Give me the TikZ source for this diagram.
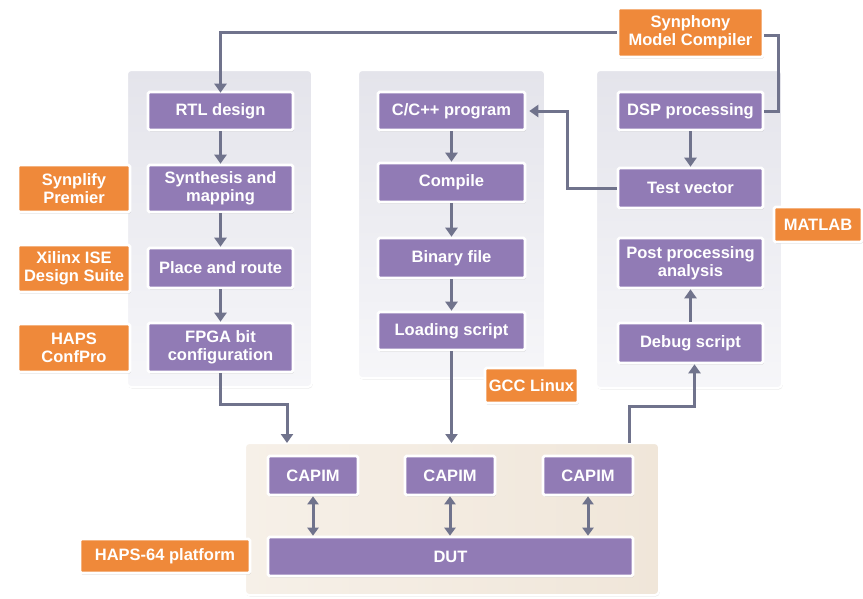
\documentclass[tikz,border=0pt]{standalone}
\usepackage{fontspec}
\setmainfont{Liberation Sans}
\usetikzlibrary{arrows.meta,shadows,calc}
\definecolor{purp}{RGB}{145,123,181}
\definecolor{orng}{RGB}{239,137,58}
\definecolor{conn}{RGB}{112,115,140}
\definecolor{pantop}{RGB}{228,228,235}
\definecolor{panbot}{RGB}{246,246,249}
\definecolor{beigeL}{RGB}{246,240,232}
\definecolor{beigeR}{RGB}{240,230,217}
\tikzset{
  box/.style={draw=white, line width=2.6pt, text=white, font=\bfseries\fontsize{16.5}{18}\selectfont,
    align=center, inner sep=0pt, rounded corners=1.5pt,
    drop shadow={opacity=0.3, shadow xshift=0.8pt, shadow yshift=-1.6pt}},
  pbox/.style={box, fill=purp},
  obox/.style={box, fill=orng},
  panel/.style={draw=white, line width=2pt, rounded corners=4pt, top color=pantop, bottom color=panbot,
    drop shadow={opacity=0.15, shadow xshift=0.8pt, shadow yshift=-1.5pt}},
  wire/.style={draw=conn, line width=3pt},
  arr/.style={wire, -{Triangle[width=12pt,length=9pt]}},
  darr/.style={wire, {Triangle[width=11pt,length=8pt]}-{Triangle[width=11pt,length=8pt]}},
}
\newcommand{\bx}[7]{\node[#1, minimum width=#5 pt, minimum height=#6 pt] (#2) at (#3,#4) {#7};}
\begin{document}
\begin{tikzpicture}[x=1pt,y=-1pt]
\fill[white] (0,0) rectangle (863,598);
\useasboundingbox (0,0) rectangle (863,598);
% panels
\path[panel] (127,70) rectangle (312,387);
\path[panel] (358,70) rectangle (545,378);
\path[panel] (596,70) rectangle (782,388);
\path[panel, left color=beigeL, right color=beigeR] (245,443) rectangle (659,595);
\coordinate (bpin1) at (287,443);
\coordinate (bpin2) at (451.5,443);
\coordinate (bpout) at (629,443);
% left column
\bx{pbox}{rtl}{220.5}{111}{145}{38}{RTL design}
\bx{pbox}{syn}{220.5}{188.5}{145}{47}{Synthesis and\\mapping}
\bx{pbox}{par}{220.5}{268}{145}{40}{Place and route}
\bx{pbox}{fpga}{220.5}{347.5}{145}{49}{FPGA bit\\configuration}
\bx{obox}{synp}{74}{188.5}{112}{47}{Synplify\\Premier}
\bx{obox}{xil}{74}{268.5}{112}{47}{Xilinx ISE\\Design Suite}
\bx{obox}{haps}{74}{348}{112}{48}{HAPS\\ConfPro}
% middle column
\bx{pbox}{cpp}{451.5}{111}{147}{38}{C/C++ program}
\bx{pbox}{comp}{451.5}{182.5}{147}{39}{Compile}
\bx{pbox}{bin}{451.5}{258}{147}{40}{Binary file}
\bx{pbox}{load}{451.5}{331}{147}{38}{Loading script}
\bx{obox}{gcc}{531.5}{385.5}{93}{35}{GCC Linux}
% right column
\bx{obox}{symc}{690.5}{32.5}{145}{49}{Synphony\\Model Compiler}
\bx{pbox}{dsp}{690.5}{111}{145}{38}{DSP processing}
\bx{pbox}{tv}{690.5}{188}{145}{40}{Test vector}
\bx{pbox}{post}{690.5}{263}{145}{50}{Post processing\\analysis}
\bx{pbox}{dbg}{690.5}{343}{145}{40}{Debug script}
\bx{obox}{matlab}{818}{224.5}{88}{35}{MATLAB}
% bottom
\bx{pbox}{cap1}{313}{475.5}{90}{39}{CAPIM}
\bx{pbox}{cap2}{450}{475.5}{90}{39}{CAPIM}
\bx{pbox}{cap3}{588}{475.5}{90}{39}{CAPIM}
\bx{pbox}{dut}{450.5}{556.5}{365}{39}{DUT}
\bx{obox}{haps64}{165}{556}{170}{34}{HAPS-64 platform}
% connectors
\draw[arr] (symc.west) -| ([yshift=-2pt]rtl.north);
\draw[wire] ([yshift=-3pt]symc.east) -- ++(14,0) |- (dsp.east);
\draw[arr] (rtl.south) -- (syn.north);
\draw[arr] (syn.south) -- (par.north);
\draw[arr] (par.south) -- (fpga.north);
\draw[arr] (fpga.south) -- ++(0,31) -| (bpin1);
\draw[arr] (cpp.south) -- (comp.north);
\draw[arr] (comp.south) -- (bin.north);
\draw[arr] (bin.south) -- (load.north);
\draw[arr] (load.south) -- (bpin2);
\draw[arr] (dsp.south) -- (tv.north);
\draw[arr] (tv.west) -- ++(-49,0) |- ([xshift=3pt]cpp.east);
\draw[arr] (dbg.north) -- (post.south);
\draw[arr] (bpout) -- ++(0,-37) -| ([xshift=4pt]dbg.south);
\draw[darr] (cap1.south) -- (cap1.south |- dut.north);
\draw[darr] (cap2.south) -- (cap2.south |- dut.north);
\draw[darr] (cap3.south) -- (cap3.south |- dut.north);
\end{tikzpicture}
\end{document}
